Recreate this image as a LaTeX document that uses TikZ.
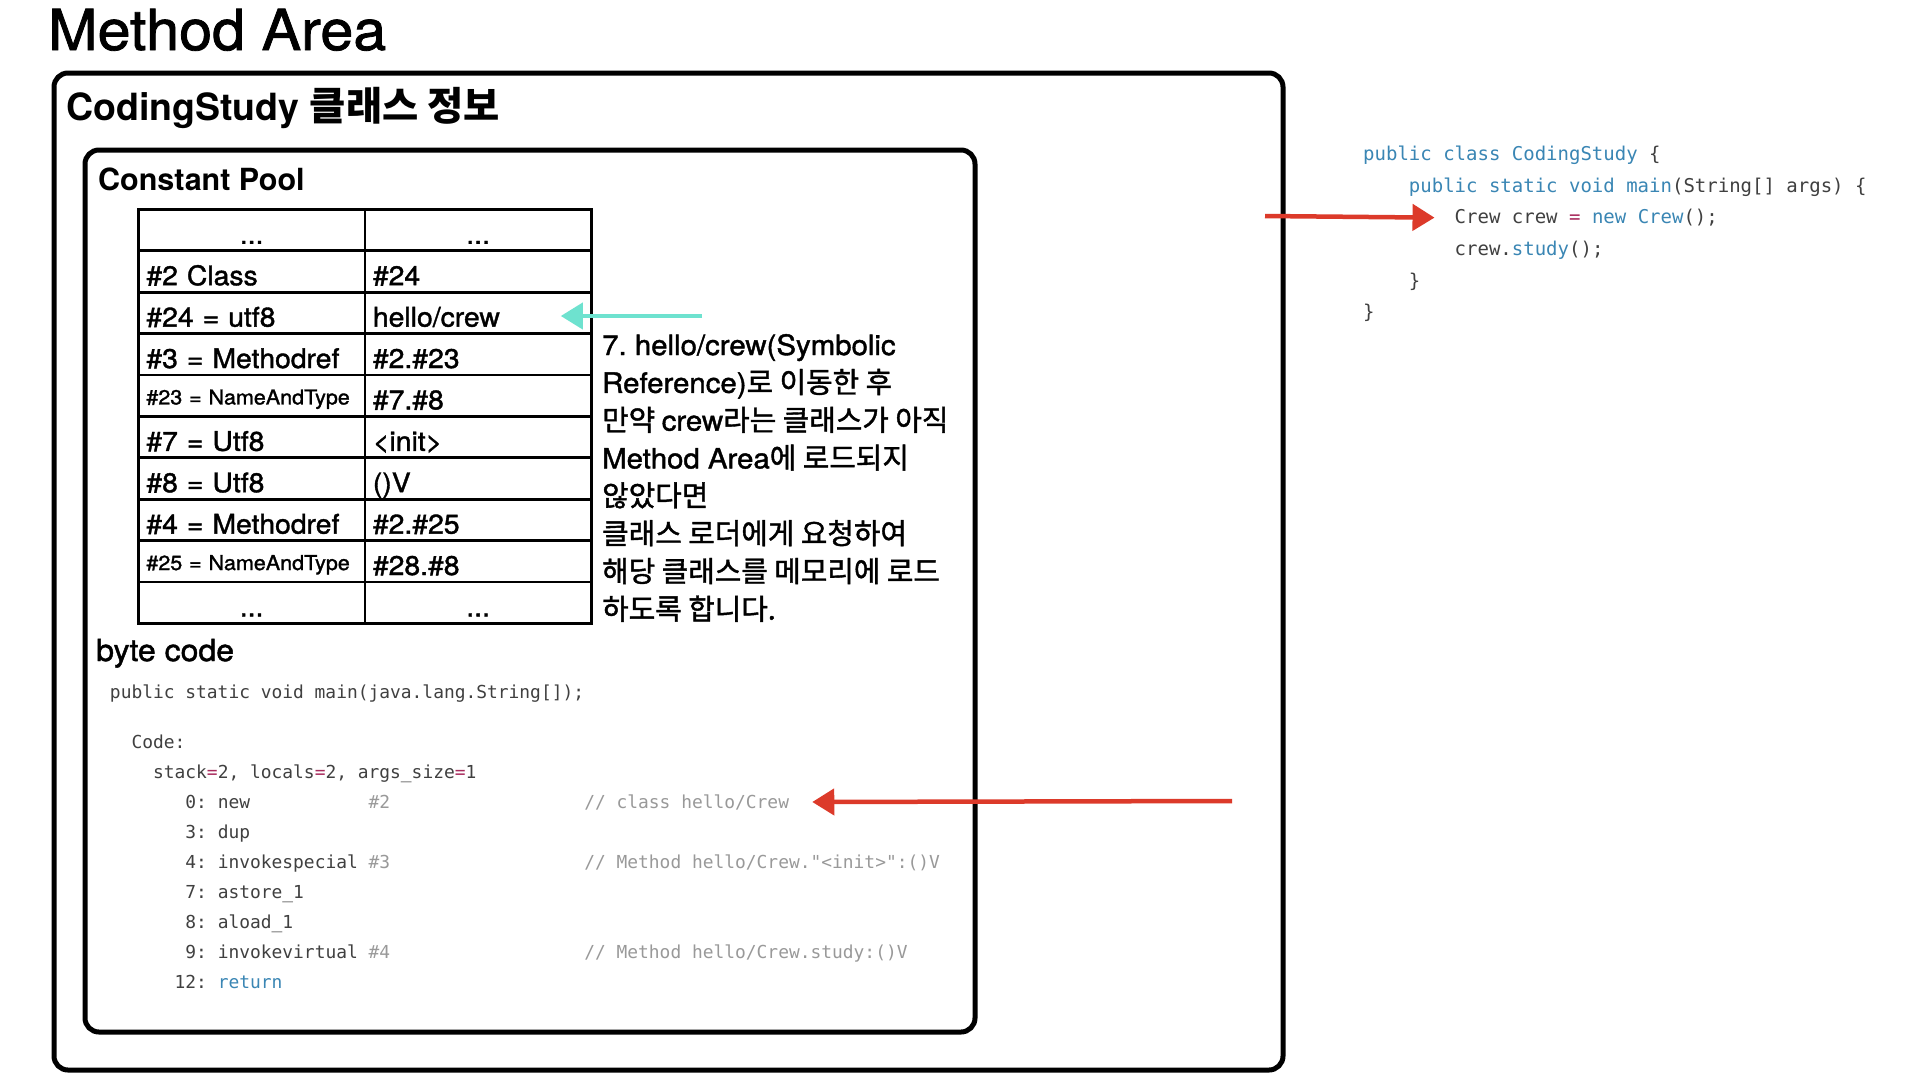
\documentclass[tikz,border=0pt]{standalone}
\usepackage{fontspec}
\usetikzlibrary{arrows.meta}
\newfontfamily\hv[FakeStretch=1.06]{TeX Gyre Heros}
\newfontfamily\hvm[FakeStretch=1.05,FakeBold=1.4]{TeX Gyre Heros}
\newfontfamily\hvb{TeX Gyre Heros}
\newfontfamily\kr[FakeBold=1.4,Scale=1.03]{Noto Sans CJK KR}
\newfontfamily\krb[Scale=1.05]{Noto Sans CJK KR}
\newfontfamily\monof{DejaVu Sans Mono}
\definecolor{kwblue}{HTML}{3A86B4}
\definecolor{codegray}{HTML}{404040}
\definecolor{cmtgray}{HTML}{999999}
\definecolor{eqred}{HTML}{A82A5C}
\definecolor{arrowred}{HTML}{DC3A2A}
\definecolor{arrowcyan}{HTML}{6EE2CF}
\newcommand\kwc[1]{\textcolor{kwblue}{#1}}
\newcommand\eqc{\textcolor{eqred}{=}}
\newcommand\cmtc[1]{\textcolor{cmtgray}{#1}}
\frenchspacing
\begin{document}
\frenchspacing
\begin{tikzpicture}[x=1pt,y=-1pt,
  frame/.style={draw=black, line width=5pt, rounded corners=14pt},
  title/.style={anchor=base west, inner sep=0pt},
  cellbox/.style={draw=black, line width=2.8pt, minimum width=226.5pt, minimum height=41.4pt,
    anchor=north west, inner xsep=8pt, inner ysep=0pt, text width=210.5pt, align=left,
    text height=33.7pt, text depth=6.3pt, font=\hvm\fontsize{27}{30}\selectfont},
  dotcell/.style={cellbox, align=center},
  smallcell/.style={cellbox, text height=25.5pt, text depth=8pt, font=\hvm\fontsize{20.5}{24}\selectfont},
  note/.style={anchor=base west, inner sep=0pt, font=\hvm\fontsize{28}{34}\selectfont},
  code/.style={anchor=base west, inner sep=0pt, font=\monof\fontsize{19}{22}\selectfont, text=codegray},
  bc/.style={anchor=base west, inner sep=0pt, font=\monof\fontsize{17.9}{21}\selectfont, text=codegray},
  redarrow/.style={draw=arrowred, line width=4.5pt, -{Triangle[length=22pt,width=26pt]}},
  cyanarrow/.style={draw=arrowcyan, line width=4pt, -{Triangle[length=22pt,width=26pt]}}
]
\fill[white] (0,0) rectangle (1920,1080);
\useasboundingbox (0,0) rectangle (1920,1080);

% frames
\draw[frame] (54,73) rectangle (1283,1070);
\draw[frame] (85,150) rectangle (975,1032);

% titles
\node[title, font=\hvm\fontsize{56.5}{60}\selectfont] (tma) at (48,50) {Method Area};
\node[title, font=\hvb\bfseries\fontsize{37.5}{42}\selectfont] (tcs) at (66,120) {CodingStudy {\krb\bfseries 클래스 정보}};
\node[title, font=\hvb\bfseries\fontsize{30.5}{34}\selectfont] (tcp) at (98,190) {Constant Pool};
\node[title, font=\hvm\fontsize{30.5}{34}\selectfont] (tbc) at (96,661) {byte code};

% constant pool table
\node[dotcell]   (c0l) at (137,208.0) {...};
\node[dotcell]   (c0r) at (363.5,208.0) {...};
\node[cellbox]   (c1l) at (137,249.4) {\#2 Class};
\node[cellbox]   (c1r) at (363.5,249.4) {\#24};
\node[cellbox]   (c2l) at (137,290.8) {\#24 = utf8};
\node[cellbox]   (c2r) at (363.5,290.8) {hello/crew};
\node[cellbox]   (c3l) at (137,332.2) {\#3 = Methodref};
\node[cellbox]   (c3r) at (363.5,332.2) {\#2.\#23};
\node[smallcell] (c4l) at (137,373.6) {\#23 = NameAndType};
\node[cellbox]   (c4r) at (363.5,373.6) {\#7.\#8};
\node[cellbox]   (c5l) at (137,415.0) {\#7 = Utf8};
\node[cellbox]   (c5r) at (363.5,415.0) {<init>};
\node[cellbox]   (c6l) at (137,456.4) {\#8 = Utf8};
\node[cellbox]   (c6r) at (363.5,456.4) {()V};
\node[cellbox]   (c7l) at (137,497.8) {\#4 = Methodref};
\node[cellbox]   (c7r) at (363.5,497.8) {\#2.\#25};
\node[smallcell] (c8l) at (137,539.2) {\#25 = NameAndType};
\node[cellbox]   (c8r) at (363.5,539.2) {\#28.\#8};
\node[dotcell]   (c9l) at (137,580.6) {...};
\node[dotcell]   (c9r) at (363.5,580.6) {...};

% annotation
\foreach \txt [count=\i] in {
  {7. hello/crew(Symbolic},
  {Reference){\kr 로 이동한 후}},
  {{\kr 만약 }crew{\kr 라는 클래스가 아직}},
  {Method Area{\kr 에 로드되지}},
  {{\kr 않았다면}},
  {{\kr 클래스 로더에게 요청하여}},
  {{\kr 해당 클래스를 메모리에 로드}},
  {{\kr 하도록 합니다.}}
}{
  \node[note] (note\i) at (602,{355+37.8*(\i-1)}) {\txt};
}

% byte code
\node[bc] (b1) at ({99+1*10.78},698) {public static void main(java.lang.String[]);};
\node[bc] (b2) at ({99+3*10.78},748) {Code:};
\node[bc] (b3) at ({99+5*10.78},778) {stack\eqc2, locals\eqc2, args\_size\eqc1};
\node[bc] (b4) at ({99+8*10.78},808) {0: new};
\node[bc] (b4a) at ({99+25*10.78},808) {\cmtc{\#2}};
\node[bc] (b4c) at ({99+45*10.78},808) {\cmtc{// class hello/Crew}};
\node[bc] (b5) at ({99+8*10.78},838) {3: dup};
\node[bc] (b6) at ({99+8*10.78},868) {4: invokespecial};
\node[bc] (b6a) at ({99+25*10.78},868) {\cmtc{\#3}};
\node[bc] (b6c) at ({99+45*10.78},868) {\cmtc{// Method hello/Crew."<init>":()V}};
\node[bc] (b7) at ({99+8*10.78},898) {7: astore\_1};
\node[bc] (b8) at ({99+8*10.78},928) {8: aload\_1};
\node[bc] (b9) at ({99+8*10.78},958) {9: invokevirtual};
\node[bc] (b9a) at ({99+25*10.78},958) {\cmtc{\#4}};
\node[bc] (b9c) at ({99+45*10.78},958) {\cmtc{// Method hello/Crew.study:()V}};
\node[bc] (b10) at ({99+7*10.78},988) {12: \kwc{return}};

% java source
\node[code] (j1) at (1363,160) {\kwc{public class CodingStudy} \{};
\node[code] (j2) at ({1363+4*11.44},192) {\kwc{public static void main}(String[] args) \{};
\node[code] (j3) at ({1363+8*11.44},223.5) {Crew crew \eqc{} \kwc{new Crew}();};
\node[code] (j4) at ({1363+8*11.44},255) {crew.\kwc{study}();};
\node[code] (j5) at ({1363+4*11.44},287) {\}};
\node[code] (j6) at (1363,318) {\}};

% arrows
\coordinate (redtail1) at (1265,216);
\coordinate (redtail2) at (1232,801);
\coordinate (cyantail) at (702,316);
\draw[redarrow] (redtail1) -- ([xshift=-20pt]j3.west);
\draw[redarrow] (redtail2) -- ([xshift=23pt]b4c.east);
\draw[cyanarrow] (cyantail) -- ([xshift=-32pt]c2r.east |- cyantail);
\end{tikzpicture}
\end{document}
